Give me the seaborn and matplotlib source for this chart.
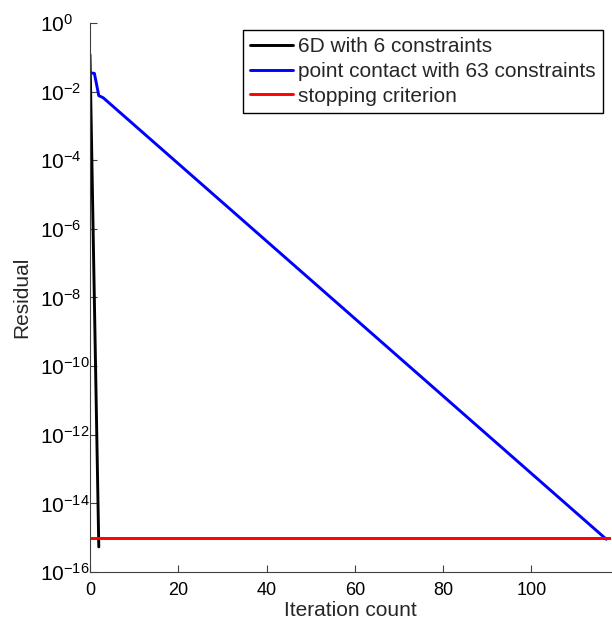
import numpy as np
import pandas as pd
import matplotlib
matplotlib.use("Agg")
import matplotlib.pyplot as plt
import seaborn as sns

# ---------------------------------------------------------
# DATA
# ---------------------------------------------------------
iter_6d = [0, 1, 2]
res_6d = [1.2e-1, 8e-9, 5.4e-16]

iter_pc = [0, 1, 2, 3, 117]
res_pc = [3.5e-2, 3.4e-2, 7.6e-3, 6.6e-3, 9e-16]

iter_stop = [0, 118]
res_stop = [1e-15, 1e-15]

labels = ["6D with 6 constraints",
          "point contact with 63 constraints",
          "stopping criterion"]
colors = ["black", "#0000ff", "#ff0000"]

df = pd.concat([
    pd.DataFrame({"it": iter_6d, "res": res_6d, "series": labels[0]}),
    pd.DataFrame({"it": iter_pc, "res": res_pc, "series": labels[1]}),
    pd.DataFrame({"it": iter_stop, "res": res_stop, "series": labels[2]}),
])

# ---------------------------------------------------------
# STYLE
# ---------------------------------------------------------
sns.set_style("white")
plt.rcParams["font.family"] = ["Liberation Sans", "DejaVu Sans"]
plt.rcParams["mathtext.fontset"] = "custom"
plt.rcParams["mathtext.rm"] = "Liberation Sans"
plt.rcParams["mathtext.it"] = "Liberation Sans:italic"

fig = plt.figure(figsize=(6.12, 6.2), dpi=100)
ax = fig.add_axes([0.147, 0.0774, 0.851, 0.8856])

sns.lineplot(data=df, x="it", y="res", hue="series", palette=colors,
             hue_order=labels, linewidth=2.1, ax=ax, estimator=None, sort=False)

ax.set_yscale("log")
ax.set_ylim(1e-16, 1)
ax.set_xlim(0, 118)
ax.set_yticks([10.0 ** k for k in range(-16, 1, 2)])
ax.minorticks_off()
ax.set_xticks([0, 20, 40, 60, 80, 100])

ax.set_xlabel("Iteration count", fontsize=15, labelpad=1.5)
ax.set_ylabel("Residual", fontsize=15, labelpad=6)

for side in ["top", "right"]:
    ax.spines[side].set_visible(False)
for side in ["left", "bottom"]:
    ax.spines[side].set_color("#404040")
    ax.spines[side].set_linewidth(0.8)

ax.tick_params(direction="in", length=5, width=0.8, color="#404040",
               labelcolor="black", bottom=True, left=True)
ax.tick_params(axis="x", labelsize=13, pad=7)
# MATLAB-like: the "10" bases line up on the left
ax.tick_params(axis="y", labelsize=15, pad=36)
plt.setp(ax.get_yticklabels(), ha="left")

leg = ax.legend(loc="upper right", bbox_to_anchor=(603 / 612, 1 - 30 / 620),
                bbox_transform=fig.transFigure, fontsize=15,
                frameon=True, fancybox=False, edgecolor="black",
                handlelength=2.05, handletextpad=0.25, borderpad=0.35,
                labelspacing=0.27, borderaxespad=0)
leg.get_frame().set_linewidth(1.0)
leg.get_frame().set_alpha(1)

plt.savefig("out.png", dpi=100)
plt.close()
